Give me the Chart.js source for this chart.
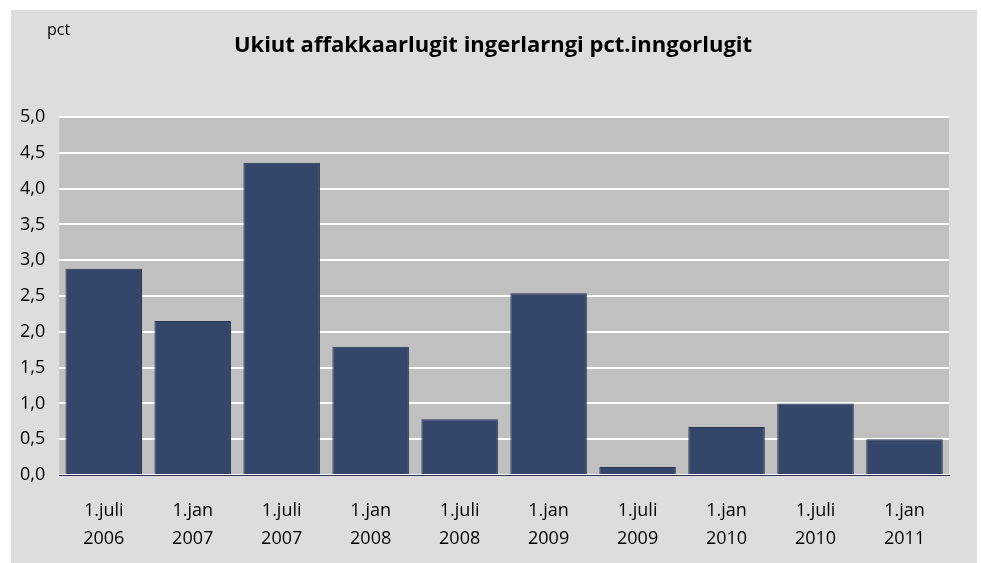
<!DOCTYPE html>
<html>
<head>
<meta charset="utf-8">
<script src="https://cdn.jsdelivr.net/npm/chart.js@4"></script>
<style>
  body { margin: 0; background: #ffffff; }
  canvas { display: block; }
</style>
</head>
<body>
<canvas id="chart" width="981" height="563"></canvas>
<script>
const labels = [
  ['1.juli', '2006'], ['1.jan', '2007'], ['1.juli', '2007'], ['1.jan', '2008'],
  ['1.juli', '2008'], ['1.jan', '2009'], ['1.juli', '2009'], ['1.jan', '2010'],
  ['1.juli', '2010'], ['1.jan', '2011'],
];
const values = [2.88, 2.15, 4.36, 1.79, 0.78, 2.54, 0.11, 0.67, 1.0, 0.5];
const titleText = 'Ukiut affakkaarlugit ingerlarngi pct.inngorlugit';
const unitText = 'pct';

const fontFamily = '"Open Sans", sans-serif';

// gray panel, plot background and the two texts on top
const backdrop = {
  id: 'backdrop',
  beforeDraw(chart) {
    const { ctx, chartArea: a } = chart;
    ctx.save();
    ctx.fillStyle = '#dddddd';
    ctx.fillRect(11, 10, 966, 553);
    ctx.fillStyle = '#c0c0c0';
    ctx.fillRect(a.left, a.top, a.right - a.left, a.bottom - a.top);
    ctx.restore();
  },
  afterDraw(chart) {
    const { ctx } = chart;
    ctx.save();
    ctx.fillStyle = '#000000';
    ctx.textBaseline = 'middle';
    ctx.font = '16px ' + fontFamily;
    ctx.textAlign = 'left';
    ctx.fillText(unitText, 47, 30);
    ctx.font = 'bold 22px ' + fontFamily;
    ctx.textAlign = 'center';
    ctx.fillText(titleText, 493, 46);
    ctx.restore();
  }
};

new Chart(document.getElementById('chart'), {
  type: 'bar',
  data: {
    labels: labels,
    datasets: [
      {
        data: values,
        backgroundColor: '#34466a',
        borderColor: '#28344f',
        borderWidth: 1,
        barPercentage: 0.86,
        categoryPercentage: 1,
      },
    ],
  },
  options: {
    responsive: false,
    animation: false,
    layout: { padding: { top: 117, left: 6, right: 32, bottom: 0 } },
    plugins: {
      legend: { display: false },
      tooltip: { enabled: false },
    },
    scales: {
      x: {
        grid: { display: false },
        border: { color: '#28344f', width: 1 },
        afterFit(scale) { scale.height = 88; },
        ticks: {
          color: '#000000',
          padding: 14,
          font: { family: fontFamily, size: 18, lineHeight: 1.55 },
        },
      },
      y: {
        min: 0,
        max: 5,
        grid: { color: '#ffffff', lineWidth: 2, drawTicks: false },
        border: { display: false },
        ticks: {
          stepSize: 0.5,
          color: '#000000',
          padding: 14,
          font: { family: fontFamily, size: 18 },
          callback: (v) => v.toFixed(1).replace('.', ','),
        },
      },
    },
  },
  plugins: [backdrop],
});
</script>
</body>
</html>
